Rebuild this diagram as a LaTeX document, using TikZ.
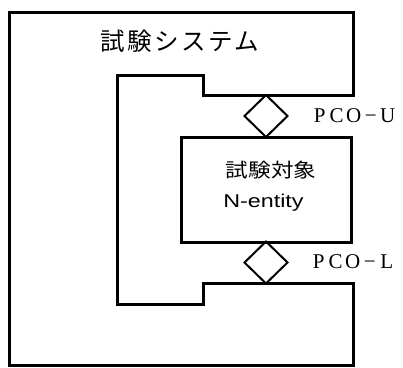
\documentclass[tikz,border=0pt]{standalone}
\usepackage{fontspec}
\setmainfont{Liberation Serif}
\newfontfamily\jpfont[LetterSpace=10]{Noto Sans CJK JP}
\newfontfamily\jpfontb{Noto Sans CJK JP}
\newfontfamily\arialfont{Liberation Sans}
\usetikzlibrary{shapes.geometric}
\newcommand{\lsp}[1]{\makebox[17pt]{#1}}
\begin{document}
\begin{tikzpicture}[x=1pt,y=-1pt,
  sysline/.style={line width=3pt, line join=miter},
  port/.style={diamond, draw, line width=2pt, minimum width=43pt, minimum height=42pt, inner sep=0pt, outer sep=0pt},
  dutbox/.style={draw, line width=3pt, inner sep=0pt, outer sep=0pt},
  lbl/.style={inner sep=0pt, font=\fontsize{21}{21}\selectfont}]
\useasboundingbox (0,0) rectangle (403,367);
\fill[white] (0,0) rectangle (403,367);
% test system outline
\draw[sysline] (9,12) -- (353,12) -- (353,95) -- (203,95) -- (203,75) -- (117,75)
  -- (117,304) -- (203,304) -- (203,283) -- (353,283) -- (353,365) -- (9,365) -- cycle;
% DUT box
\node[dutbox, minimum width=170pt, minimum height=105pt] (dut) at (266,189.5) {};
\node[inner sep=0pt, font=\jpfontb\fontsize{19.5}{19.5}\selectfont, xscale=1.16] (dutjp) at (271,170) {試験対象};
\node[inner sep=0pt, font=\arialfont\fontsize{18.5}{18.5}\selectfont, xscale=1.26, anchor=base west] (dutn) at (223,207.5) {N-entity};
% system label
\node[inner sep=0pt, font=\jpfont\fontsize{24.5}{24.5}\selectfont] (sys) at (180,41) {試験システム};
% ports
\node[port] (pcou) at (266,116) {};
\node[port] (pcol) at (266,262.5) {};
\node[lbl, anchor=west] (pcoulbl) at (311,116) {\lsp{P}\lsp{C}\lsp{O}\lsp{−}\lsp{U}};
\node[lbl, anchor=west] (pcollbl) at (310,262) {\lsp{P}\lsp{C}\lsp{O}\lsp{−}\lsp{L}};
\end{tikzpicture}
\end{document}
